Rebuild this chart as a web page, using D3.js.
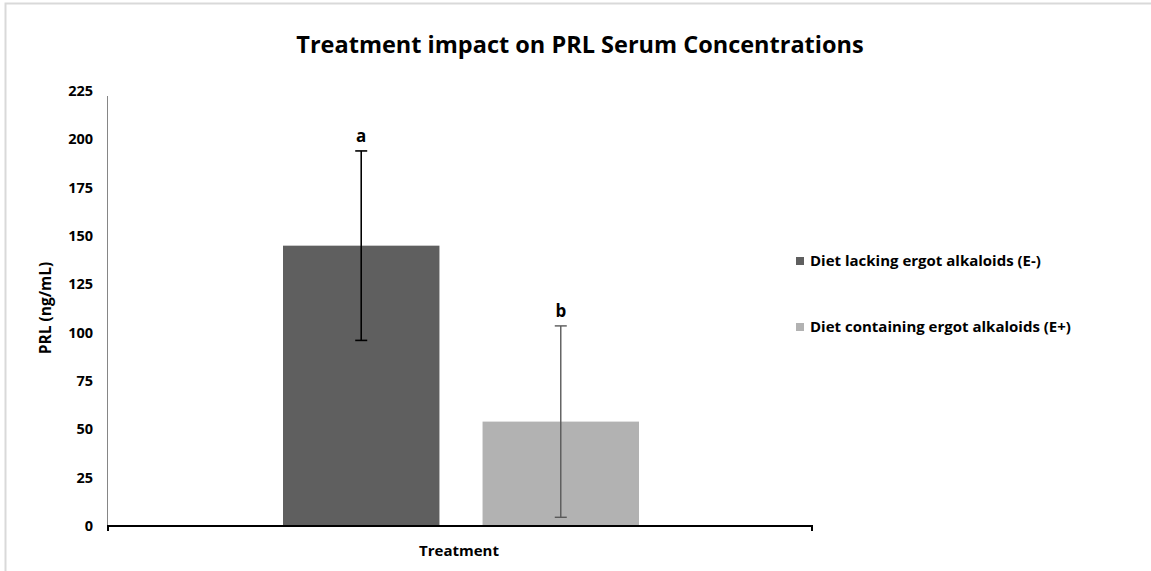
<!DOCTYPE html>
<html>
<head>
<meta charset="utf-8">
<script src="https://cdn.jsdelivr.net/npm/d3@7"></script>
<style>
  body { margin: 0; background: #fff; }
  text { font-family: "Open Sans", "Liberation Sans", sans-serif; font-weight: bold; }
</style>
</head>
<body>
<div id="chart"></div>
<script>
// Data
var treatments = ["Diet lacking ergot alkaloids (E-)", "Diet containing ergot alkaloids (E+)"];
var means = [145, 54];
var errors = [49, 49.5];
var letters = ["a", "b"];
var barColors = ["#5f5f5f", "#b2b2b2"];
var errColors = ["#000000", "#595959"];
var yTicks = [0, 25, 50, 75, 100, 125, 150, 175, 200, 225];

var width = 1151, height = 571;

var svg = d3.select("#chart")
    .append("svg")
    .attr("width", width)
    .attr("height", height);

// light frame round the chart area
svg.append("path")
    .attr("d", "M5.5,571 V3.5 H1151")
    .attr("fill", "none")
    .attr("stroke", "#d9d9d9")
    .attr("stroke-width", 2);

// scales
var y = d3.scaleLinear().domain([0, 225]).range([526, 91]);
var xGroup = d3.scaleBand().domain(treatments).range([283, 639]).paddingInner(0.216).paddingOuter(0);

// y axis line and labels
svg.append("line")
    .attr("x1", 107.5).attr("x2", 107.5)
    .attr("y1", 96).attr("y2", y(0))
    .attr("stroke", "#868686")
    .attr("stroke-width", 1);

svg.selectAll(".ytick")
    .data(yTicks)
    .enter()
    .append("text")
    .attr("class", "ytick")
    .attr("x", 93)
    .attr("y", function (d) { return y(d); })
    .attr("dy", "0.35em")
    .attr("text-anchor", "end")
    .style("font-size", "14.5px")
    .style("fill", "#000")
    .text(function (d) { return d; });

// bars
svg.selectAll(".bar")
    .data(treatments)
    .enter()
    .append("rect")
    .attr("class", "bar")
    .attr("x", function (d) { return xGroup(d); })
    .attr("y", function (d, i) { return y(means[i]); })
    .attr("width", xGroup.bandwidth())
    .attr("height", function (d, i) { return y(0) - y(means[i]); })
    .style("fill", function (d, i) { return barColors[i]; });

// error bars
treatments.forEach(function (t, i) {
    var cx = xGroup(t) + xGroup.bandwidth() / 2;
    var top = y(means[i] + errors[i]);
    var bot = y(means[i] - errors[i]);
    var g = svg.append("g").attr("stroke", errColors[i]).attr("stroke-width", i == 0 ? 1.6 : 1.4);
    g.append("line").attr("x1", cx).attr("x2", cx).attr("y1", top).attr("y2", bot);
    g.append("line").attr("x1", cx - 6).attr("x2", cx + 6).attr("y1", top).attr("y2", top);
    g.append("line").attr("x1", cx - 6).attr("x2", cx + 6).attr("y1", bot).attr("y2", bot);

    svg.append("text")
        .attr("x", cx)
        .attr("y", top - 9)
        .attr("text-anchor", "middle")
        .style("font-size", "17px")
        .style("fill", "#000")
        .text(letters[i]);
});

// x axis line with end ticks
svg.append("path")
    .attr("d", "M108," + (y(0) + 5) + " V" + y(0) + " H812 V" + (y(0) + 5))
    .attr("fill", "none")
    .attr("stroke", "#000")
    .attr("stroke-width", 2);

// axis titles
svg.append("text")
    .attr("x", 459)
    .attr("y", 556)
    .attr("text-anchor", "middle")
    .style("font-size", "15px")
    .text("Treatment");

svg.append("text")
    .attr("transform", "translate(51,308) rotate(-90)")
    .attr("text-anchor", "middle")
    .style("font-size", "15.5px")
    .text("PRL (ng/mL)");

// title
svg.append("text")
    .attr("x", 580)
    .attr("y", 53)
    .attr("text-anchor", "middle")
    .style("font-size", "23.5px")
    .text("Treatment impact on PRL Serum Concentrations");

// legend
var legend = svg.selectAll(".legend")
    .data(treatments)
    .enter()
    .append("g")
    .attr("class", "legend")
    .attr("transform", function (d, i) { return "translate(796," + (261 + i * 66) + ")"; });

legend.append("rect")
    .attr("x", 0).attr("y", -4)
    .attr("width", 8).attr("height", 8)
    .style("fill", function (d, i) { return barColors[i]; });

legend.append("text")
    .attr("x", 14)
    .attr("y", 0)
    .attr("dy", "0.35em")
    .style("font-size", "15px")
    .style("fill", "#000")
    .text(function (d) { return d; });
</script>
</body>
</html>
